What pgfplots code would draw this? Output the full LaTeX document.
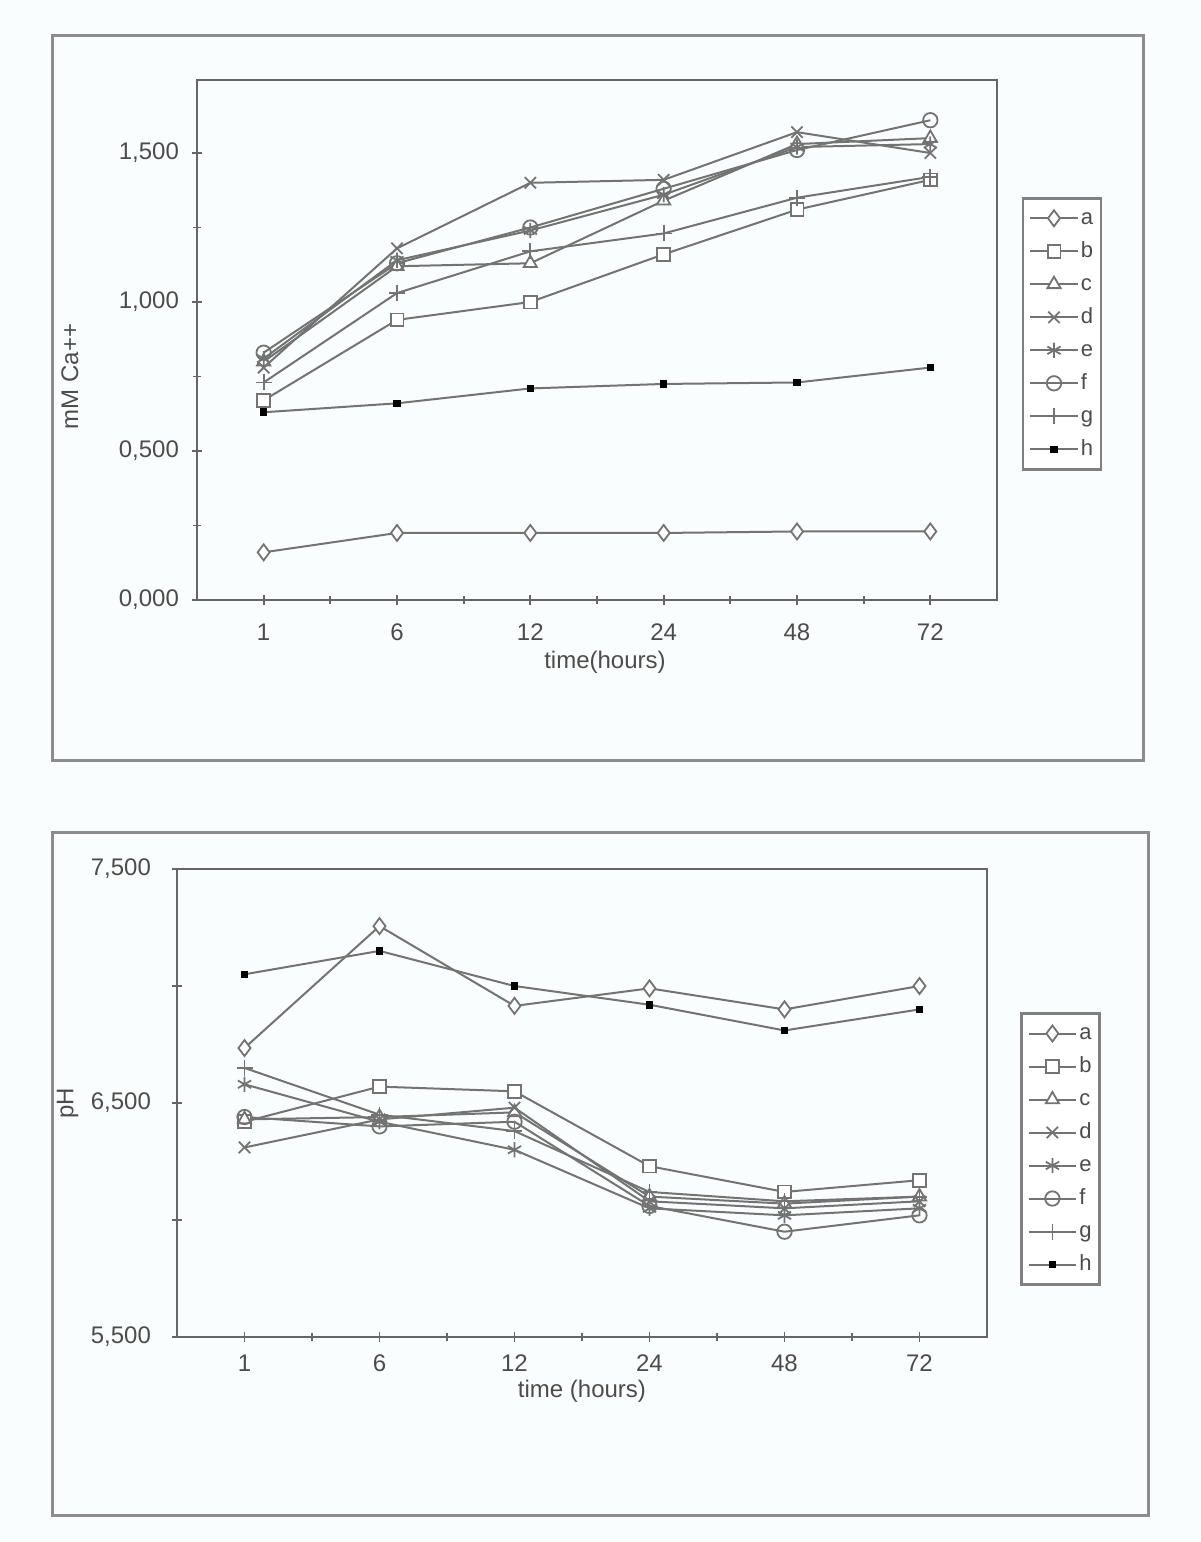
\documentclass[border=0pt]{standalone}
\usepackage{pgfplots}
\pgfplotsset{compat=1.18}
\usepackage{fontspec}
\setmainfont{Liberation Sans}
\usetikzlibrary{plotmarks}
\definecolor{bgc}{RGB}{250,253,253}
\pgfplotsset{
  panel/.style={
    scale only axis,
    axis line style={black!60, line width=1pt},
    xmin=-0.5, xmax=5.5,
    xtick={0,...,5}, xticklabels={1,6,12,24,48,72},
    minor xtick={0.5,1.5,2.5,3.5,4.5},
    xtick pos=bottom, ytick pos=left,
    tick align=center,
    major tick length=5pt, minor tick length=4pt,
    every tick/.style={black!60, line width=0.9pt},
    ticklabel style={font=\fontsize{12}{14}\selectfont, text=black!70},
    label style={font=\fontsize{12}{14}\selectfont, text=black!70},
    every axis plot/.append style={line width=1pt, black!55, mark size=3.5pt,
      mark options={solid, fill=white, line width=0.9pt}},
    legend style={draw=black!50, line width=1.3pt, fill=white, anchor=north west,
      font=\fontsize{11}{12}\selectfont, text=black!70, row sep=4.5pt,
      inner xsep=3pt, inner ysep=4pt,
      nodes={inner sep=1pt, text height=8pt, text depth=2pt}},
    legend cell align=left,
    legend image code/.code={\draw[mark repeat=2,mark phase=2, line width=1pt]
      plot coordinates {(0cm,0cm) (0.42cm,0cm) (0.84cm,0cm)};},
  },
  sa/.style={mark=diamond*, mark size=4pt},
  sb/.style={mark=square*, mark size=3.2pt},
  sc/.style={mark=triangle*, mark size=3.8pt},
  sd/.style={mark=x, mark size=4pt},
  se/.style={mark=asterisk, mark size=3.8pt},
  sf/.style={mark=o, mark size=3.6pt},
  sg/.style={mark=+, mark size=4pt},
  sh/.style={mark=square*, mark size=1.4pt, mark options={fill=black, draw=black}},
}
\begin{document}
\begin{tikzpicture}
\path[use as bounding box, fill=bgc] (0pt,0pt) rectangle (600pt,-771pt);
% ---------------- top panel ----------------
\begin{axis}[panel,
  at={(98.5pt,-300pt)}, anchor=south west,
  width=400pt, height=260pt,
  ymin=0, ymax=1.745,
  ytick={0,0.5,1,1.5}, yticklabels={{0,000},{0,500},{1,000},{1,500}},
  minor ytick={0.25,0.75,1.25},
  yticklabel style={xshift=-3pt},
  xticklabel style={yshift=-6pt},
  xlabel={time(hours)},
  xlabel style={at={(axis description cs:0.51,0)}, anchor=center, yshift=-31pt},
  ylabel={mM Ca++},
  ylabel style={at={(axis description cs:-0.159,0.43)}, anchor=center, rotate=0},
  legend style={at={(axis description cs:1.031,0.775)}},
]
\addplot[sa] coordinates {(0,0.16) (1,0.225) (2,0.225) (3,0.225) (4,0.23) (5,0.23)};
\addplot[sb] coordinates {(0,0.67) (1,0.94) (2,1.00) (3,1.16) (4,1.31) (5,1.41)};
\addplot[sc] coordinates {(0,0.80) (1,1.12) (2,1.13) (3,1.34) (4,1.53) (5,1.55)};
\addplot[sd] coordinates {(0,0.78) (1,1.18) (2,1.40) (3,1.41) (4,1.57) (5,1.50)};
\addplot[se] coordinates {(0,0.81) (1,1.14) (2,1.24) (3,1.36) (4,1.52) (5,1.53)};
\addplot[sf] coordinates {(0,0.83) (1,1.13) (2,1.25) (3,1.38) (4,1.51) (5,1.61)};
\addplot[sg] coordinates {(0,0.73) (1,1.03) (2,1.17) (3,1.23) (4,1.35) (5,1.42)};
\addplot[sh] coordinates {(0,0.63) (1,0.66) (2,0.71) (3,0.725) (4,0.73) (5,0.78)};
\legend{a,b,c,d,e,f,g,h}
\end{axis}
% ---------------- bottom panel ----------------
\begin{axis}[panel,
  at={(88.5pt,-668.5pt)}, anchor=south west,
  width=405pt, height=234pt,
  ymin=5.5, ymax=7.5,
  ytick={5.5,6,6.5,7,7.5}, yticklabels={{5,500},{},{6,500},{},{7,500}},
  yticklabel style={xshift=-7pt},
  xticklabel style={yshift=-3pt},
  xlabel={time (hours)},
  xlabel style={at={(axis description cs:0.5,0)}, anchor=center, yshift=-27pt},
  ylabel={pH},
  ylabel style={at={(axis description cs:-0.135,0.5)}, anchor=center},
  legend style={at={(axis description cs:1.041,0.694)}},
]
\addplot[sa] coordinates {(0,6.735) (1,7.256) (2,6.915) (3,6.99) (4,6.90) (5,7.00)};
\addplot[sb] coordinates {(0,6.42) (1,6.57) (2,6.55) (3,6.23) (4,6.12) (5,6.17)};
\addplot[sc] coordinates {(0,6.43) (1,6.44) (2,6.46) (3,6.10) (4,6.07) (5,6.10)};
\addplot[sd] coordinates {(0,6.31) (1,6.43) (2,6.48) (3,6.08) (4,6.05) (5,6.08)};
\addplot[se] coordinates {(0,6.58) (1,6.42) (2,6.30) (3,6.05) (4,6.02) (5,6.05)};
\addplot[sf] coordinates {(0,6.44) (1,6.40) (2,6.42) (3,6.06) (4,5.95) (5,6.02)};
\addplot[sg] coordinates {(0,6.65) (1,6.45) (2,6.38) (3,6.12) (4,6.08) (5,6.10)};
\addplot[sh] coordinates {(0,7.05) (1,7.15) (2,7.00) (3,6.92) (4,6.81) (5,6.90)};
\legend{a,b,c,d,e,f,g,h}
\end{axis}
% frames
\draw[black!45, line width=1.5pt] (26pt,-17.5pt) rectangle (571.5pt,-380pt);
\draw[black!45, line width=1.5pt] (26pt,-416pt) rectangle (574pt,-757.5pt);
\end{tikzpicture}
\end{document}
